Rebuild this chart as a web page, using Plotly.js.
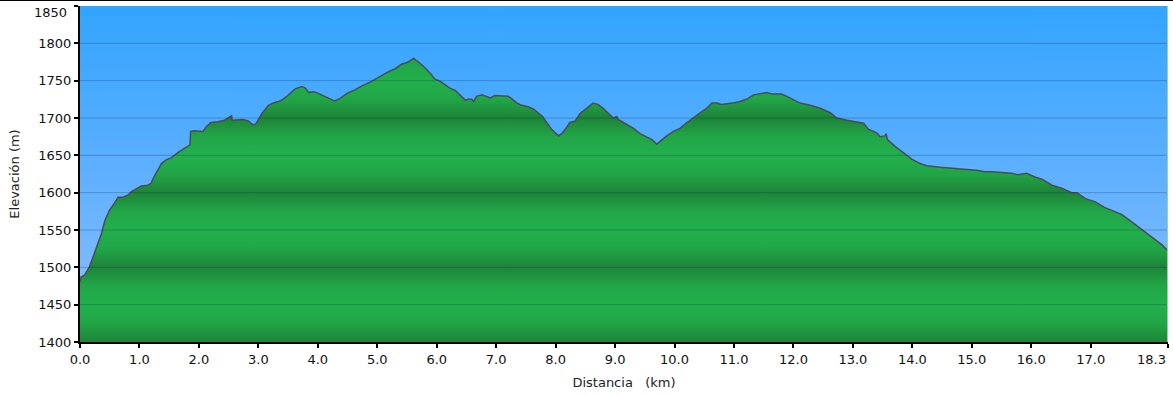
<!DOCTYPE html>
<html>
<head>
<meta charset="utf-8">
<script src="https://cdn.plot.ly/plotly-3.0.1.min.js"></script>
<style>
  html, body { margin: 0; padding: 0; background: #ffffff; }
  #wrap { position: relative; width: 1173px; height: 395px; }
  #chart { width: 1173px; height: 395px; }
  #topline { position: absolute; left: 0; top: 0; width: 1173px; height: 1px; background: #000; }
</style>
</head>
<body>
<div id="wrap">
  <div id="chart"></div>
  <div id="topline"></div>
</div>
<script>
// Distance along the route (km)
const distanceKm = [
  0.00, 0.02, 0.08, 0.14, 0.16, 0.22, 0.30, 0.36, 0.42, 0.50,
  0.58, 0.64, 0.72, 0.81, 0.86, 0.98, 1.03, 1.14, 1.19, 1.23,
  1.37, 1.45, 1.54, 1.65, 1.79, 1.85, 1.86, 1.92, 2.07, 2.12,
  2.20, 2.32, 2.43, 2.52, 2.55, 2.56, 2.66, 2.74, 2.83, 2.91,
  2.96, 3.01, 3.06, 3.17, 3.25, 3.34, 3.39, 3.48, 3.53, 3.62,
  3.73, 3.79, 3.85, 3.92, 3.98, 4.12, 4.28, 4.37, 4.49, 4.63,
  4.74, 4.88, 4.99, 5.08, 5.19, 5.30, 5.41, 5.52, 5.61, 5.69,
  5.78, 5.89, 5.97, 6.06, 6.14, 6.22, 6.31, 6.39, 6.48, 6.53,
  6.59, 6.62, 6.67, 6.76, 6.84, 6.90, 6.98, 7.09, 7.20, 7.26,
  7.35, 7.43, 7.54, 7.63, 7.71, 7.78, 7.85, 7.93, 8.05, 8.10,
  8.19, 8.24, 8.33, 8.41, 8.52, 8.63, 8.72, 8.80, 8.89, 8.97,
  9.03, 9.05, 9.14, 9.20, 9.31, 9.42, 9.53, 9.62, 9.70, 9.79,
  9.87, 9.98, 10.09, 10.21, 10.32, 10.43, 10.54, 10.63, 10.71, 10.79,
  10.88, 10.99, 11.10, 11.21, 11.33, 11.44, 11.55, 11.66, 11.80, 11.89,
  12.00, 12.11, 12.28, 12.45, 12.62, 12.73, 12.90, 13.04, 13.18, 13.26,
  13.40, 13.46, 13.54, 13.56, 13.58, 13.71, 13.85, 13.99, 14.13, 14.24,
  14.47, 14.69, 14.92, 15.08, 15.22, 15.34, 15.50, 15.67, 15.78, 15.92,
  16.06, 16.18, 16.35, 16.51, 16.68, 16.77, 16.91, 17.07, 17.24, 17.41,
  17.52, 17.69, 17.86, 18.03, 18.20, 18.30
];

// Elevation (m)
const elevationM = [
  1481, 1487, 1490, 1497, 1501, 1514, 1532, 1545, 1563, 1577,
  1586, 1594, 1594, 1597, 1601, 1607, 1609, 1610, 1612, 1619,
  1639, 1644, 1647, 1654, 1661, 1664, 1682, 1683, 1682, 1688,
  1694, 1695, 1697, 1701, 1703, 1697, 1697, 1698, 1696, 1691,
  1692, 1699, 1706, 1717, 1720, 1722, 1724, 1729, 1733, 1739,
  1742, 1740, 1734, 1735, 1734, 1729, 1723, 1726, 1733, 1738,
  1743, 1748, 1753, 1758, 1762, 1766, 1772, 1775, 1780, 1775,
  1769, 1760, 1752, 1749, 1745, 1740, 1737, 1731, 1724, 1725,
  1725, 1722, 1729, 1731, 1729, 1727, 1730, 1730, 1729, 1726,
  1720, 1717, 1715, 1712, 1706, 1702, 1694, 1685, 1676, 1679,
  1688, 1694, 1696, 1706, 1713, 1720, 1718, 1713, 1706, 1700,
  1702, 1698, 1694, 1691, 1686, 1679, 1675, 1671, 1665, 1671,
  1676, 1682, 1686, 1694, 1701, 1707, 1713, 1720, 1720, 1718,
  1719, 1720, 1722, 1725, 1731, 1733, 1734, 1732, 1732, 1729,
  1724, 1720, 1717, 1713, 1707, 1700, 1697, 1695, 1693, 1685,
  1680, 1675, 1676, 1679, 1671, 1662, 1653, 1645, 1639, 1636,
  1634, 1633, 1631, 1630, 1628, 1628, 1627, 1626, 1624, 1626,
  1621, 1618, 1610, 1606, 1600, 1600, 1592, 1588, 1580, 1574,
  1571, 1561, 1551, 1541, 1530, 1522
];

// Axis ticks
const yTickVals = [1400, 1450, 1500, 1550, 1600, 1650, 1700, 1750, 1800, 1850];
const yTickText = ["1400","1450","1500","1550","1600","1650","1700","1750","1800","1850"];
const xTickVals = [0, 1, 2, 3, 4, 5, 6, 7, 8, 9, 10, 11, 12, 13, 14, 15, 16, 17, 18.3];
const xTickText = ["0.0","1.0","2.0","3.0","4.0","5.0","6.0","7.0","8.0","9.0","10.0","11.0","12.0","13.0","14.0","15.0","16.0","17.0","18.3"];

const Y_MIN = 1400, Y_MAX = 1850, X_MIN = 0, X_MAX = 18.3;

// Sky gradient background via canvas
function skyImage() {
  const c = document.createElement('canvas');
  c.width = 4; c.height = 340;
  const g = c.getContext('2d');
  const grad = g.createLinearGradient(0, 0, 0, 340);
  grad.addColorStop(0, 'rgb(50,165,255)');
  grad.addColorStop(0.5, 'rgb(95,176,255)');
  grad.addColorStop(1, 'rgb(145,193,255)');
  g.fillStyle = grad;
  g.fillRect(0, 0, 4, 340);
  return c.toDataURL('image/png');
}

// Striped green colorscale: dark at every 100 m, light at every odd 50 m
const DARK = 'rgb(30,132,57)';
const LIGHT = 'rgb(34,176,76)';
const MID = 'rgb(33,166,71)';
const greenScale = [];
for (let i = 0; i < yTickVals.length - 1; i++) {
  const v0 = yTickVals[i];
  const f0 = (v0 - Y_MIN) / (Y_MAX - Y_MIN);
  const fm = (v0 + 25 - Y_MIN) / (Y_MAX - Y_MIN);
  greenScale.push([f0, (v0 % 100 === 0) ? DARK : LIGHT]);
  greenScale.push([fm, MID]);
}
greenScale.push([1, (Y_MAX % 100 === 0) ? DARK : LIGHT]);

const profile = {
  x: distanceKm,
  y: elevationM,
  type: 'scatter',
  mode: 'lines',
  line: { color: 'rgb(75,75,90)', width: 1.5 },
  fill: 'tozeroy',
  fillgradient: {
    type: 'vertical',
    start: Y_MIN,
    stop: Y_MAX,
    colorscale: greenScale
  },
  hoverinfo: 'x+y'
};

const gridShapes = yTickVals.filter(v => v > Y_MIN && v < Y_MAX).map(v => ({
  type: 'line', xref: 'paper', yref: 'y', x0: 0, x1: 1, y0: v, y1: v,
  line: { color: 'rgba(15,45,80,0.28)', width: 1 }, layer: 'above'
}));
gridShapes.push({
  type: 'line', xref: 'x', yref: 'paper', x0: X_MAX, x1: X_MAX, y0: 0, y1: 1,
  line: { color: 'rgb(150,212,155)', width: 2 }, layer: 'above'
});

const fontFam = 'DejaVu Sans, Verdana, sans-serif';
const tickFont = { family: fontFam, size: 13, color: '#111' };

// Edge tick labels are pulled inside the page, as in the original
const lastXLabel = {
  xref: 'x', yref: 'paper', x: xTickVals[xTickVals.length - 1], y: 0,
  yshift: -8, xanchor: 'right', yanchor: 'top', showarrow: false,
  text: xTickText[xTickText.length - 1], font: tickFont
};
const topYLabel = {
  xref: 'paper', yref: 'paper', x: 0, y: 1,
  xshift: -11, yshift: 3, xanchor: 'right', yanchor: 'top', showarrow: false,
  text: yTickText[yTickText.length - 1], font: tickFont
};
const xTickTextShown = xTickText.slice(0, -1).concat(['']);
const yTickTextShown = yTickText.slice(0, -1).concat(['']);

const layout = {
  width: 1173,
  height: 395,
  margin: { l: 80, r: 5, t: 6, b: 53 },
  paper_bgcolor: '#ffffff',
  plot_bgcolor: 'rgb(95,176,255)',
  showlegend: false,
  font: { family: fontFam, size: 13, color: '#111' },
  images: [{
    source: skyImage(), xref: 'paper', yref: 'paper',
    x: 0, y: 1, sizex: 1, sizey: 1, sizing: 'stretch', layer: 'below'
  }],
  shapes: gridShapes,
  annotations: [lastXLabel, topYLabel],
  xaxis: {
    range: [X_MIN, X_MAX],
    tickmode: 'array', tickvals: xTickVals, ticktext: xTickTextShown,
    ticks: 'outside', ticklen: 4, tickwidth: 2, tickcolor: '#000',
    showline: true, linecolor: '#000', linewidth: 2,
    showgrid: false, zeroline: false, fixedrange: true,
    ticklabeloverflow: 'allow',
    tickfont: tickFont,
    title: { text: 'Distancia\u00a0\u00a0\u00a0(km)', font: { family: fontFam, size: 13, color: '#222' }, standoff: 12 }
  },
  yaxis: {
    range: [Y_MIN, Y_MAX],
    tickmode: 'array', tickvals: yTickVals, ticktext: yTickTextShown,
    ticks: 'outside', ticklen: 4, tickwidth: 2, tickcolor: '#000',
    showline: true, linecolor: '#000', linewidth: 2,
    showgrid: false, zeroline: false, fixedrange: true,
    ticklabeloverflow: 'allow',
    tickfont: tickFont,
    title: { text: 'Elevación (m)', font: { family: fontFam, size: 13, color: '#222' }, standoff: 16 }
  }
};

Plotly.newPlot('chart', [profile], layout, { displayModeBar: false, staticPlot: true });
</script>
</body>
</html>
